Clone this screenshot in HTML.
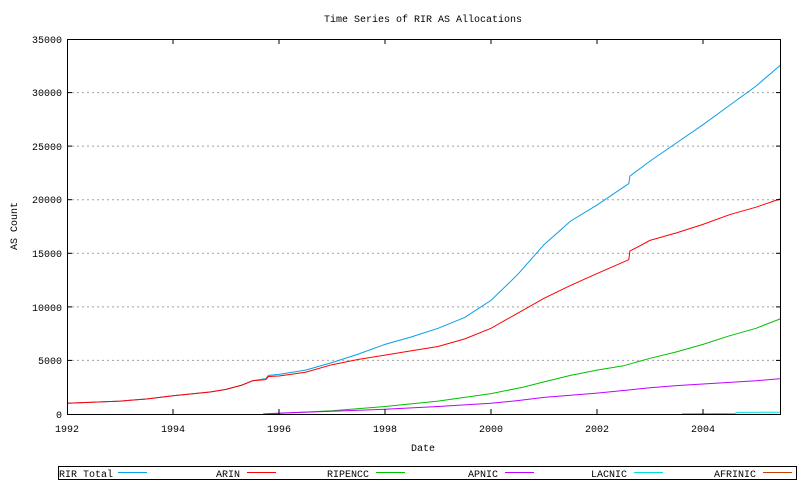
<!DOCTYPE html>
<html><head><meta charset="utf-8"><style>
html,body{margin:0;padding:0;background:#fff}
svg text{font-family:"Liberation Mono","DejaVu Sans Mono",monospace;font-size:10px;fill:#000}
</style></head><body>
<svg id="c" width="800" height="480" xmlns="http://www.w3.org/2000/svg">
<rect x="0" y="0" width="800" height="480" fill="#fff"/>
<g stroke="#a0a0a0" stroke-width="1" stroke-dasharray="2,3">
<line x1="67" y1="360.4" x2="781" y2="360.4"/>
<line x1="67" y1="306.9" x2="781" y2="306.9"/>
<line x1="67" y1="253.3" x2="781" y2="253.3"/>
<line x1="67" y1="199.7" x2="781" y2="199.7"/>
<line x1="67" y1="146.1" x2="781" y2="146.1"/>
<line x1="67" y1="92.6" x2="781" y2="92.6"/>
</g>
<g text-anchor="end">
<text x="62" y="418">0</text>
<text x="62" y="364">5000</text>
<text x="62" y="311">10000</text>
<text x="62" y="257">15000</text>
<text x="62" y="203">20000</text>
<text x="62" y="150">25000</text>
<text x="62" y="96">30000</text>
<text x="62" y="43">35000</text>
</g>
<g text-anchor="middle">
<text x="67" y="432">1992</text>
<text x="173" y="432">1994</text>
<text x="279" y="432">1996</text>
<text x="385" y="432">1998</text>
<text x="491" y="432">2000</text>
<text x="597" y="432">2002</text>
<text x="703" y="432">2004</text>
<text x="423" y="451">Date</text>
<text x="423" y="22">Time Series of RIR AS Allocations</text>
<text x="0" y="0" transform="translate(17,226) rotate(-90)">AS Count</text>
</g>
<g id="series" fill="none" stroke-width="1"></g>
<g stroke="#000" stroke-width="1">
<line x1="173" y1="414" x2="173" y2="409"/><line x1="279" y1="414" x2="279" y2="409"/>
<line x1="385" y1="414" x2="385" y2="409"/><line x1="491" y1="414" x2="491" y2="409"/>
<line x1="597" y1="414" x2="597" y2="409"/><line x1="703" y1="414" x2="703" y2="409"/>
<line x1="173" y1="39" x2="173" y2="44"/><line x1="279" y1="39" x2="279" y2="44"/>
<line x1="385" y1="39" x2="385" y2="44"/><line x1="491" y1="39" x2="491" y2="44"/>
<line x1="597" y1="39" x2="597" y2="44"/><line x1="703" y1="39" x2="703" y2="44"/>
<line x1="67" y1="360.4" x2="72" y2="360.4"/><line x1="67" y1="306.9" x2="72" y2="306.9"/>
<line x1="67" y1="253.3" x2="72" y2="253.3"/><line x1="67" y1="199.7" x2="72" y2="199.7"/>
<line x1="67" y1="146.1" x2="72" y2="146.1"/><line x1="67" y1="92.6" x2="72" y2="92.6"/>
<line x1="781" y1="360.4" x2="776" y2="360.4"/><line x1="781" y1="306.9" x2="776" y2="306.9"/>
<line x1="781" y1="253.3" x2="776" y2="253.3"/><line x1="781" y1="199.7" x2="776" y2="199.7"/>
<line x1="781" y1="146.1" x2="776" y2="146.1"/><line x1="781" y1="92.6" x2="776" y2="92.6"/>
</g>
<rect x="67.5" y="39.5" width="713" height="375" fill="none" stroke="#000"/>
<rect x="58.5" y="466.5" width="738" height="13" fill="none" stroke="#000"/>
<text x="59" y="477">RIR Total</text><line x1="118" y1="472.5" x2="147" y2="472.5" stroke="#0a9ee8"/>
<text x="216" y="477">ARIN</text><line x1="247" y1="472.5" x2="276" y2="472.5" stroke="#ff0000"/>
<text x="327" y="477">RIPENCC</text><line x1="376" y1="472.5" x2="405" y2="472.5" stroke="#00c000"/>
<text x="468" y="477">APNIC</text><line x1="505" y1="472.5" x2="534" y2="472.5" stroke="#c000ff"/>
<text x="591" y="477">LACNIC</text><line x1="634" y1="472.5" x2="663" y2="472.5" stroke="#00e0e0"/>
<text x="714" y="477">AFRINIC</text><line x1="763" y1="472.5" x2="792" y2="472.5" stroke="#c04000"/>
</svg>
<script>
var S=[
["#0a9ee8",[[1992,1000],[1993,1200],[1993.5,1400],[1994,1700],[1994.7,2050],[1995,2300],[1995.3,2700],[1995.5,3100],[1995.75,3300],[1995.8,3600],[1996,3700],[1996.5,4100],[1997,4800],[1997.5,5600],[1998,6500],[1998.5,7200],[1999,8000],[1999.5,9000],[2000,10600],[2000.5,13000],[2001,15800],[2001.5,18000],[2002,19500],[2002.6,21500],[2002.62,22200],[2003,23600],[2003.5,25300],[2004,27000],[2004.5,28800],[2005,30600],[2005.47,32600]]],
["#ff0000",[[1992,1000],[1993,1200],[1993.5,1400],[1994,1700],[1994.7,2050],[1995,2300],[1995.3,2700],[1995.5,3100],[1995.75,3200],[1995.8,3500],[1996,3550],[1996.5,3900],[1997,4600],[1997.5,5100],[1998,5500],[1998.5,5900],[1999,6300],[1999.5,7000],[2000,8000],[2000.5,9400],[2001,10800],[2001.5,12000],[2002,13100],[2002.6,14400],[2002.62,15200],[2003,16200],[2003.5,16900],[2004,17700],[2004.5,18600],[2005,19300],[2005.47,20100]]],
["#00c000",[[1995.7,0],[1996,60],[1997,300],[1998,700],[1999,1200],[2000,1900],[2000.6,2500],[2001,3000],[2001.5,3600],[2002,4100],[2002.5,4500],[2003,5200],[2003.5,5800],[2004,6500],[2004.5,7300],[2005,8000],[2005.47,8900]]],
["#c000ff",[[1995.7,0],[1996,80],[1997,250],[1998,450],[1999,700],[2000,1000],[2000.5,1250],[2001,1550],[2002,1950],[2003,2450],[2003.5,2650],[2004,2800],[2005,3100],[2005.47,3300]]],
["#00e0e0",[[2003.6,30],[2004.6,60],[2004.65,150],[2005.47,170]]]
];
var g=document.getElementById("series"),ns="http://www.w3.org/2000/svg";
S.forEach(function(s){var p=s[1].map(function(d){return (67+(d[0]-1992)*53).toFixed(1)+","+(414-d[1]*375/35000).toFixed(1)}).join(" ");
var e=document.createElementNS(ns,"polyline");e.setAttribute("points",p);e.setAttribute("stroke",s[0]);g.appendChild(e);});
</script>
</body></html>
